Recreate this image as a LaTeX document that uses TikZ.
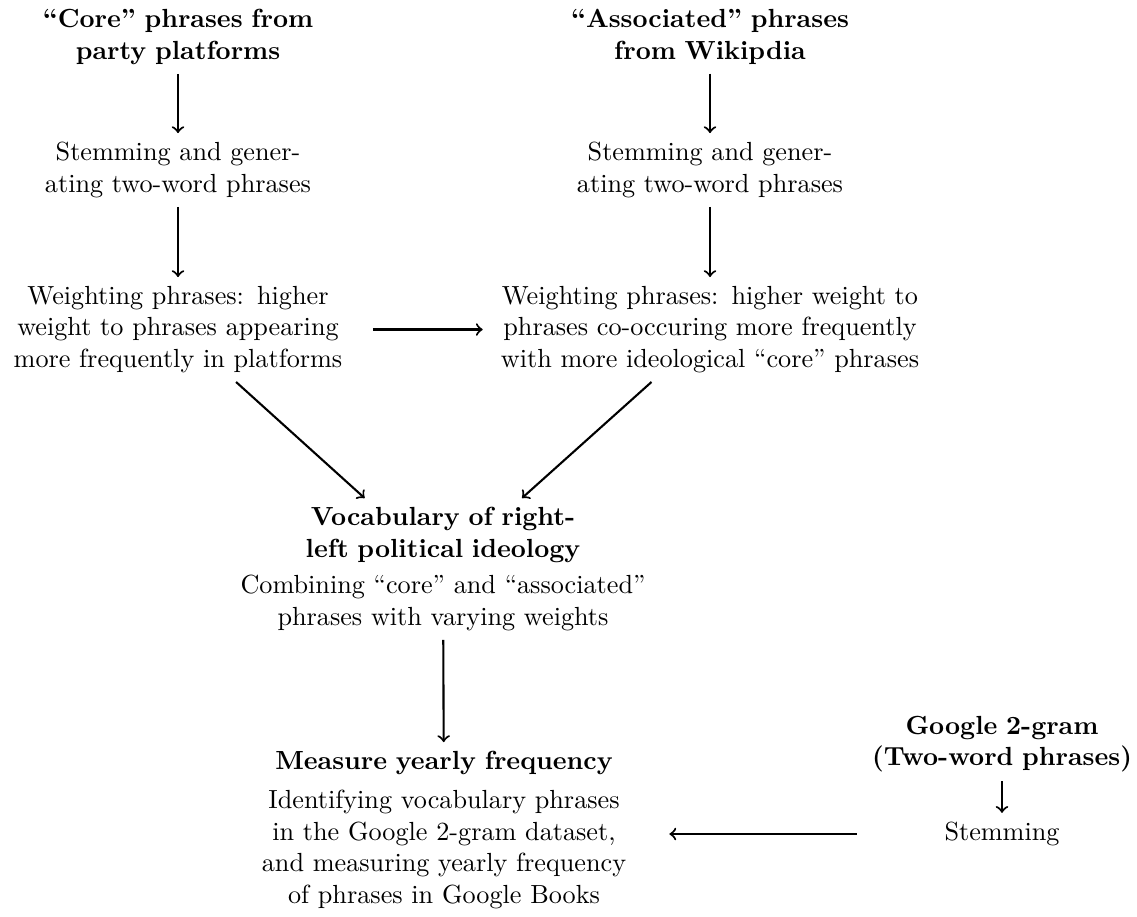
\documentclass[tikz,border=0pt]{standalone}
\begin{document}
\begin{tikzpicture}[x=0.38168pt, y=-0.38168pt,
  box/.style={align=center, inner sep=3.33pt},
  lcol/.style={box, text width=4.7cm},
  mcol/.style={box, text width=5.85cm},
  ccol/.style={box, text width=5.8cm},
  gcol/.style={box, text width=3.65cm},
  arr/.style={->, thick}]
\useasboundingbox (0,0) rectangle (1137,916);
% left column
\node[lcol] (core) at (178,37) {\textbf{``Core'' phrases from}\\\textbf{party platforms}};
\node[lcol] (s1) at (178,170) {Stemming and gener-\\ating two-word phrases};
\node[lcol] (w1) at (178,329.5) {Weighting phrases: higher\\weight to phrases appearing\\more frequently in platforms};
% right column
\node[mcol] (assoc) at (710,37) {\textbf{``Associated'' phrases}\\\textbf{from Wikipdia}};
\node[mcol] (s2) at (710,170) {Stemming and gener-\\ating two-word phrases};
\node[mcol] (w2) at (710,329.5) {Weighting phrases: higher weight to\\phrases co-occuring more frequently\\with more ideological ``core'' phrases};
% center
\node[ccol] (voc) at (443,569) {\textbf{Vocabulary of right-}\\\textbf{left political ideology}\\[2pt]Combining ``core'' and ``associated''\\phrases with varying weights};
\node[ccol] (meas) at (444,830) {\textbf{Measure yearly frequency}\\[3pt]Identifying vocabulary phrases\\in the Google 2-gram dataset,\\and measuring yearly frequency\\of phrases in Google Books};
% google
\node[gcol] (g) at (1002,744) {\textbf{Google 2-gram}\\\textbf{(Two-word phrases)}};
\node[gcol] (s3) at (1002,834) {Stemming};
% connectors
\draw[arr] (core) -- (s1);
\draw[arr] (s1) -- (w1);
\draw[arr] (assoc) -- (s2);
\draw[arr] (s2) -- (w2);
\draw[arr, shorten <=4pt] (w1) -- (w2);
\draw[arr] (w1) -- (voc);
\draw[arr] (w2) -- (voc);
\draw[arr] (voc) -- (meas);
\draw[arr] (g) -- (s3);
\draw[arr] (s3) -- (meas.east |- s3);
\end{tikzpicture}
\end{document}
